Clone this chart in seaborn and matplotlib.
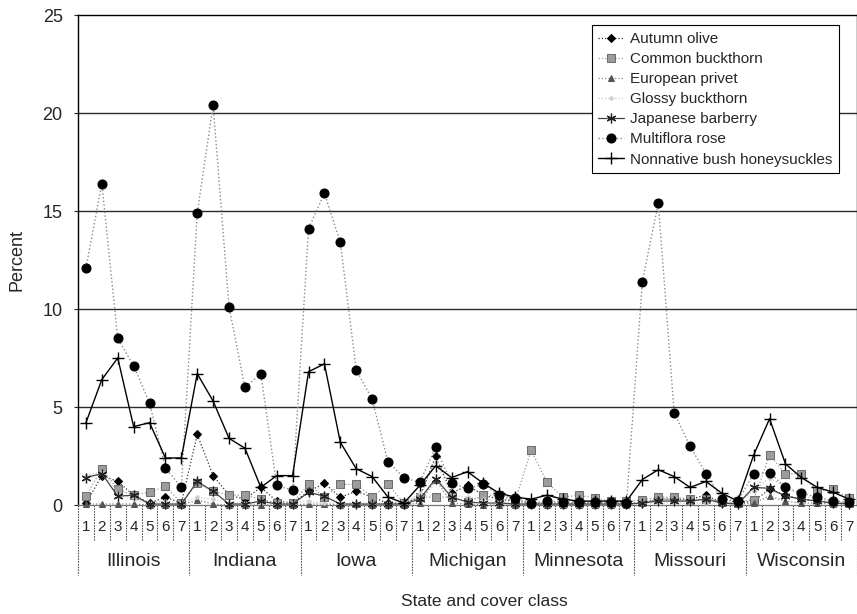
import matplotlib
matplotlib.use("Agg")
import matplotlib.pyplot as plt
import numpy as np
import pandas as pd
import seaborn as sns

states = ["Illinois", "Indiana", "Iowa", "Michigan", "Minnesota", "Missouri", "Wisconsin"]
cover_classes = ["1", "2", "3", "4", "5", "6", "7"]

autumn_olive = [
    0.1, 1.5, 1.2, 0.5, 0.1, 0.4, 0.1,
    3.6, 1.5, 0.5, 0.3, 0.9, 0.2, 0.1,
    0.7, 1.1, 0.4, 0.7, 0.4, 0.1, 0.1,
    0.4, 2.5, 0.6, 1.0, 0.5, 0.3, 0.2,
    0.1, 0.1, 0.1, 0.1, 0.1, 0.1, 0.1,
    0.1, 0.3, 0.3, 0.3, 0.5, 0.1, 0.1,
    0.2, 0.8, 0.5, 0.3, 0.2, 0.1, 0.1,
]
common_buckthorn = [
    0.45, 1.85, 0.8, 0.5, 0.65, 0.95, 0.1,
    1.1, 0.7, 0.5, 0.5, 0.3, 0.1, 0.1,
    1.05, 0.4, 1.05, 1.05, 0.4, 1.05, 0.1,
    0.4, 0.4, 0.4, 0.15, 0.5, 0.5, 0.2,
    2.8, 1.15, 0.4, 0.5, 0.35, 0.2, 0.2,
    0.25, 0.4, 0.4, 0.3, 0.3, 0.2, 0.2,
    0.25, 2.55, 1.6, 1.6, 0.7, 0.8, 0.35,
]
european_privet = [
    0.05, 0.05, 0.05, 0.05, 0.0, 0.0, 0.0,
    0.25, 0.05, 0.0, 0.0, 0.0, 0.0, 0.0,
    0.05, 0.05, 0.0, 0.05, 0.0, 0.0, 0.0,
    0.1, 1.3, 0.1, 0.05, 0.0, 0.0, 0.0,
    0.0, 0.0, 0.0, 0.0, 0.0, 0.0, 0.0,
    0.1, 0.3, 0.3, 0.2, 0.3, 0.1, 0.05,
    0.1, 0.45, 0.2, 0.1, 0.1, 0.05, 0.05,
]
glossy_buckthorn = [
    1.5, 1.7, 0.6, 0.3, 0.1, 0.2, 0.1,
    0.4, 0.3, 0.1, 0.1, 0.1, 0.1, 0.1,
    0.2, 0.1, 0.1, 0.1, 0.1, 0.1, 0.1,
    0.6, 2.2, 0.5, 0.4, 0.3, 0.2, 0.1,
    0.1, 0.1, 0.1, 0.1, 0.1, 0.1, 0.1,
    0.1, 0.1, 0.1, 0.1, 0.1, 0.1, 0.1,
    0.7, 1.4, 0.9, 0.5, 0.3, 0.2, 0.1,
]
japanese_barberry = [
    1.4, 1.6, 0.45, 0.5, 0.05, 0.05, 0.05,
    1.2, 0.7, 0.05, 0.05, 0.2, 0.05, 0.05,
    0.65, 0.45, 0.05, 0.05, 0.05, 0.05, 0.05,
    0.3, 1.35, 0.4, 0.15, 0.1, 0.1, 0.05,
    0.05, 0.05, 0.05, 0.05, 0.05, 0.05, 0.05,
    0.1, 0.2, 0.2, 0.2, 0.3, 0.1, 0.05,
    0.9, 0.85, 0.45, 0.3, 0.2, 0.1, 0.05,
]
multiflora_rose = [
    12.1, 16.4, 8.5, 7.1, 5.2, 1.9, 0.9,
    14.9, 20.4, 10.1, 6.0, 6.7, 1.0, 0.75,
    14.1, 15.9, 13.4, 6.9, 5.4, 2.2, 1.4,
    1.15, 2.95, 1.1, 0.85, 1.05, 0.5, 0.35,
    0.1, 0.2, 0.15, 0.15, 0.15, 0.15, 0.1,
    11.4, 15.4, 4.7, 3.0, 1.6, 0.3, 0.2,
    1.6, 1.65, 0.9, 0.6, 0.4, 0.2, 0.15,
]
bush_honeysuckles = [
    4.2, 6.4, 7.5, 4.0, 4.2, 2.4, 2.4,
    6.7, 5.3, 3.4, 2.9, 0.9, 1.5, 1.5,
    6.8, 7.2, 3.2, 1.85, 1.45, 0.4, 0.1,
    1.0, 2.0, 1.4, 1.7, 1.1, 0.6, 0.4,
    0.3, 0.5, 0.3, 0.2, 0.2, 0.2, 0.2,
    1.3, 1.8, 1.45, 0.9, 1.2, 0.6, 0.2,
    2.55, 4.4, 2.1, 1.4, 0.9, 0.65, 0.3,
]

series = {
    "Autumn olive": autumn_olive,
    "Common buckthorn": common_buckthorn,
    "European privet": european_privet,
    "Glossy buckthorn": glossy_buckthorn,
    "Japanese barberry": japanese_barberry,
    "Multiflora rose": multiflora_rose,
    "Nonnative bush honeysuckles": bush_honeysuckles,
}

df = pd.DataFrame(series)
df["pos"] = np.arange(len(df))

styles = {
    "Autumn olive": dict(marker="D", markersize=4.5, color="#333333", linestyle=":",
                         linewidth=0.9, markerfacecolor="black", markeredgecolor="black"),
    "Common buckthorn": dict(marker="s", markersize=6, color="#9a9a9a", linestyle=":",
                             linewidth=0.9, markerfacecolor="#9c9c9c", markeredgecolor="#6e6e6e"),
    "European privet": dict(marker="^", markersize=4.5, color="#808080", linestyle=":",
                            linewidth=0.9, markerfacecolor="#555555", markeredgecolor="#555555"),
    "Glossy buckthorn": dict(marker="o", markersize=2.5, color="#c8c8c8", linestyle=":",
                             linewidth=0.9, markerfacecolor="#cfcfcf", markeredgecolor="#cfcfcf"),
    "Japanese barberry": dict(marker=(6, 2, 0), markersize=7, color="#444444", linestyle="-",
                              linewidth=0.9, markerfacecolor="#222222", markeredgecolor="#222222",
                              markeredgewidth=0.9),
    "Multiflora rose": dict(marker="o", markersize=6.5, color="#8a8a8a", linestyle=":",
                            linewidth=1.0, markerfacecolor="black", markeredgecolor="black"),
    "Nonnative bush honeysuckles": dict(marker="+", markersize=9, color="black", linestyle="-",
                                        linewidth=1.0, markerfacecolor="black",
                                        markeredgecolor="black", markeredgewidth=1.0),
}

sns.set_style("white")
plt.rcParams["font.family"] = ["Liberation Sans", "DejaVu Sans"]

W, H = 857, 614
fig = plt.figure(figsize=(W / 100, H / 100), dpi=100)
ax_left, ax_top, ax_right, ax_bottom = 78, 15, 857, 505
ax = fig.add_axes([ax_left / W, 1 - ax_bottom / H, (ax_right - ax_left) / W, (ax_bottom - ax_top) / H])

n = len(df)
ax.set_xlim(-0.5, n - 0.5)
ax.set_ylim(0, 25)

# horizontal reference lines
for yv in [5, 10, 15, 20]:
    ax.axhline(yv, color="#2a2a2a", linewidth=1.0, zorder=1)

for name, values in series.items():
    sns.lineplot(data=df, x="pos", y=name, ax=ax, label=name, clip_on=False, zorder=3,
                 **styles[name])

# axes frame
for side in ["left", "top", "right"]:
    ax.spines[side].set_color("black")
    ax.spines[side].set_linewidth(1.0)
ax.spines["bottom"].set_color("#777777")
ax.spines["bottom"].set_linestyle((0, (1, 1)))
ax.spines["bottom"].set_linewidth(0.9)

ax.set_yticks(range(0, 26, 5))
ax.tick_params(axis="y", direction="out", length=3, width=0.8, labelsize=13, pad=8, left=True)
ax.set_xticks(range(n))
ax.set_xticklabels(cover_classes * len(states), fontsize=11)
ax.tick_params(axis="x", length=0, pad=11)
ax.set_xlabel("")
ax.set_ylabel("Percent", fontsize=13, labelpad=12)

# category separators below the axis
axis_h = ax_bottom - ax_top
trans = ax.get_xaxis_transform()
for i in range(n + 1):
    xb = i - 0.5
    depth = 70 if i % 7 == 0 else 35
    ax.plot([xb, xb], [0, -depth / axis_h], transform=trans, clip_on=False,
            color="#555555", linewidth=0.8, linestyle=(0, (1.5, 1)))

for k, st in enumerate(states):
    ax.text(3 + 7 * k, -(562 - ax_bottom) / axis_h, st, transform=trans,
            ha="center", va="center", fontsize=14)

fig.text(484 / W, 1 - 602 / H, "State and cover class", ha="center", va="center", fontsize=12.5)

leg = ax.legend(loc="upper right", bbox_to_anchor=(839 / W, 1 - 25 / H),
                bbox_transform=fig.transFigure, frameon=True, fancybox=False,
                edgecolor="black", framealpha=1, fontsize=11, labelspacing=0.4,
                handlelength=1.7, handletextpad=0.35, borderpad=0.45, borderaxespad=0)
leg.get_frame().set_linewidth(0.8)
leg.set_zorder(5)

fig.savefig("out.png", dpi=100)
